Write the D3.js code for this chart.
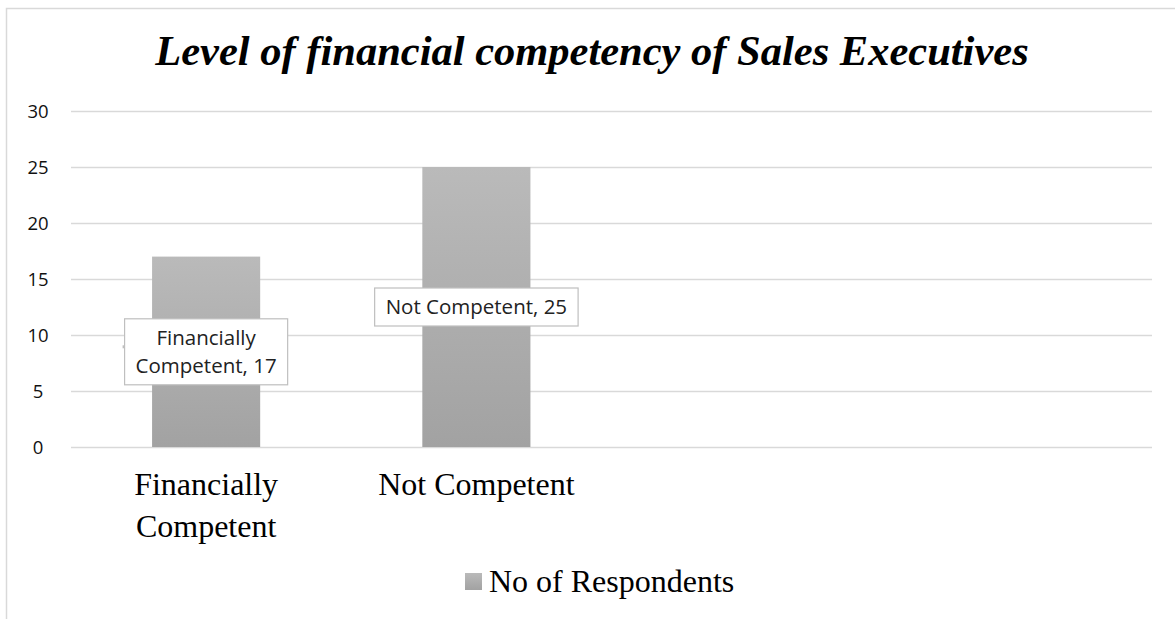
<!DOCTYPE html>
<html>
<head>
<meta charset="utf-8">
<script src="https://cdn.jsdelivr.net/npm/d3@7"></script>
<style>
  html, body { margin: 0; padding: 0; background: #fff; }
  svg { display: block; }
</style>
</head>
<body>
<svg id="chart" width="1175" height="619"></svg>
<script>
// Survey result: financial competency of sales executives
const categories = ["Financially Competent", "Not Competent", "", " "];
const categoryLines = [["Financially", "Competent"], ["Not Competent"], [], []];
const respondents = [17, 25, null, null];
const seriesName = "No of Respondents";
const yTicks = [0, 5, 10, 15, 20, 25, 30];
const labelLines = [["Financially", "Competent, 17"], ["Not Competent, 25"]];

const svg = d3.select("#chart");
const W = 1175, H = 619;
const m = { left: 71, right: 1152, top: 111, bottom: 447 };
const serif = "'Liberation Serif', 'Times New Roman', serif";
const sans = "'Open Sans', 'Liberation Sans', sans-serif";

// chart frame
svg.append("rect")
  .attr("x", 6.5).attr("y", 8.5)
  .attr("width", W + 10).attr("height", H + 10)
  .attr("fill", "#fff").attr("stroke", "#d9d9d9").attr("stroke-width", 1.5);

// title
svg.append("text")
  .attr("x", 592).attr("y", 65)
  .attr("text-anchor", "middle")
  .attr("font-family", serif)
  .attr("font-style", "italic").attr("font-weight", "bold")
  .attr("font-size", 42.5)
  .attr("fill", "#000")
  .text("Level of financial competency of Sales Executives");

const x = d3.scaleBand().domain(categories).range([m.left, m.right]).paddingInner(0).paddingOuter(0);
const y = d3.scaleLinear().domain([0, 30]).range([m.bottom, m.top]);

// gridlines
svg.append("g").selectAll("line").data(yTicks).join("line")
  .attr("x1", m.left).attr("x2", m.right)
  .attr("y1", d => Math.round(y(d)) + 0.5).attr("y2", d => Math.round(y(d)) + 0.5)
  .attr("stroke", "#d9d9d9").attr("stroke-width", 1.5);

// y axis labels
const yAxis = d3.axisLeft(y).tickValues(yTicks).tickSize(0).tickPadding(0);
const yg = svg.append("g").attr("transform", `translate(38,0)`).call(yAxis);
yg.select(".domain").remove();
yg.selectAll("text")
  .attr("text-anchor", "middle")
  .attr("font-family", sans)
  .attr("font-size", 18.5).attr("fill", "#111").attr("dy", "0.35em");

// bar gradient
const defs = svg.append("defs");
const grad = defs.append("linearGradient").attr("id", "barGrad")
  .attr("x1", 0).attr("y1", 0).attr("x2", 0).attr("y2", 1);
grad.append("stop").attr("offset", "0%").attr("stop-color", "#bababa");
grad.append("stop").attr("offset", "100%").attr("stop-color", "#a2a2a2");

const barW = x.bandwidth() / 2.5;
const barData = categories.map((c, i) => ({ c, v: respondents[i], i })).filter(d => d.v != null);

svg.append("g").selectAll("rect").data(barData).join("rect")
  .attr("x", d => x(d.c) + x.bandwidth() / 2 - barW / 2)
  .attr("y", d => y(d.v))
  .attr("width", barW)
  .attr("height", d => y(0) - y(d.v))
  .attr("fill", "url(#barGrad)");

// category labels
const catG = svg.append("g");
categories.forEach((c, i) => {
  categoryLines[i].forEach((line, j) => {
    catG.append("text")
      .attr("x", x(c) + x.bandwidth() / 2)
      .attr("y", 495 + j * 42)
      .attr("text-anchor", "middle")
      .attr("font-family", serif)
      .attr("font-size", 32).attr("fill", "#000")
      .text(line);
  });
});

// data labels in boxes, centred at half the bar height
const lblG = svg.append("g");
barData.forEach(d => {
  const lines = labelLines[d.i];
  const cx = x(d.c) + x.bandwidth() / 2;
  const cy = y(d.v / 2);
  const lh = 28;
  const g = lblG.append("g");
  const texts = lines.map((t, j) => g.append("text")
    .attr("x", cx)
    .attr("y", cy + (j - (lines.length - 1) / 2) * lh)
    .attr("dy", "0.35em")
    .attr("text-anchor", "middle")
    .attr("font-family", sans)
    .attr("font-size", 20.5).attr("fill", "#222")
    .text(t));
  const wMax = d3.max(texts, t => t.node().getComputedTextLength());
  const bw = wMax + 22, bh = lines.length * lh + 10;
  g.insert("rect", "text")
    .attr("x", cx - bw / 2).attr("y", cy - bh / 2)
    .attr("width", bw).attr("height", bh)
    .attr("fill", "#fff").attr("stroke", "#bfbfbf").attr("stroke-width", 1.2);
  if (lines.length > 1) {
    // short leader stub on the left edge of the wrapped label
    g.append("line")
      .attr("x1", cx - bw / 2 - 2).attr("x2", cx - bw / 2)
      .attr("y1", cy - 5).attr("y2", cy - 5)
      .attr("stroke", "#bfbfbf").attr("stroke-width", 3);
  }
});

// legend
const legG = svg.append("g");
legG.append("rect")
  .attr("x", 465).attr("y", 573).attr("width", 17).attr("height", 17)
  .attr("fill", "url(#barGrad)");
legG.append("text")
  .attr("x", 489).attr("y", 592)
  .attr("font-family", serif)
  .attr("font-size", 32).attr("fill", "#000")
  .text(seriesName);
</script>
</body>
</html>
